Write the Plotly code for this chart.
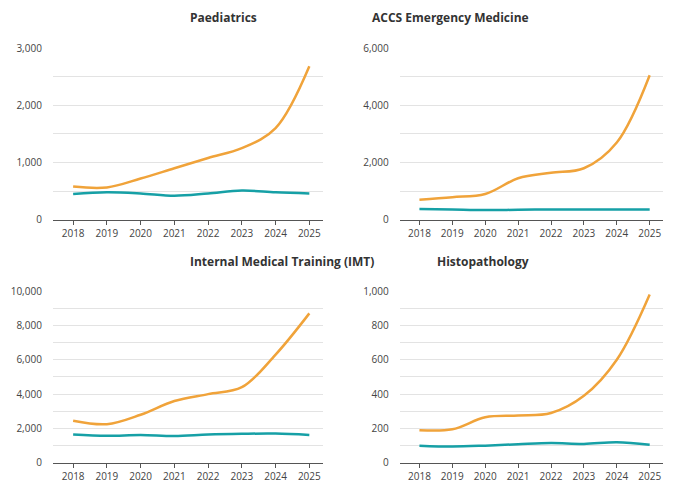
import plotly.graph_objects as go

years = ["2018", "2019", "2020", "2021", "2022", "2023", "2024", "2025"]

titles = ["Paediatrics", "ACCS Emergency Medicine",
          "Internal Medical Training (IMT)", "Histopathology"]

paed_orange = [580, 565, 720, 900, 1080, 1250, 1600, 2680]
paed_teal = [450, 480, 460, 420, 460, 510, 480, 460]
accs_orange = [700, 790, 900, 1450, 1640, 1800, 2700, 5050]
accs_teal = [380, 360, 340, 350, 360, 360, 360, 360]
imt_orange = [2450, 2250, 2800, 3600, 4000, 4400, 6300, 8700]
imt_teal = [1650, 1570, 1620, 1560, 1650, 1690, 1700, 1620]
histo_orange = [190, 195, 265, 275, 290, 390, 600, 980]
histo_teal = [100, 95, 100, 108, 115, 110, 120, 105]

orange_series = [paed_orange, accs_orange, imt_orange, histo_orange]
teal_series = [paed_teal, accs_teal, imt_teal, histo_teal]
y_max = [3000, 6000, 10000, 1000]
y_minor = [500, 1000, 1000, 100]
y_major = [1000, 2000, 2000, 200]

x_domains = [[0.066, 0.463], [0.576, 0.963], [0.066, 0.463], [0.576, 0.963]]
y_domains = [[0.566, 0.918], [0.566, 0.918], [0.068, 0.42], [0.068, 0.42]]

ORANGE = "#f0a33a"
TEAL = "#16a0a6"

fig = go.Figure()
for i in range(4):
    n = "" if i == 0 else str(i + 1)
    fig.add_trace(go.Scatter(x=years, y=teal_series[i], mode="lines",
                             line=dict(color=TEAL, width=2.5, shape="spline"),
                             xaxis="x" + n, yaxis="y" + n, showlegend=False))
    fig.add_trace(go.Scatter(x=years, y=orange_series[i], mode="lines",
                             line=dict(color=ORANGE, width=2.5, shape="spline"),
                             xaxis="x" + n, yaxis="y" + n, showlegend=False))
    vals = list(range(0, y_max[i] + 1, y_minor[i]))
    text = [f"{v:,}" if v % y_major[i] == 0 else "" for v in vals]
    fig.update_layout({
        "xaxis" + n: dict(domain=x_domains[i], anchor="y" + n, type="category",
                          showline=True, linecolor="#555", ticks="outside",
                          ticklen=4, tickcolor="#555", showgrid=False,
                          range=[-0.6, 7.4], automargin=False),
        "yaxis" + n: dict(domain=y_domains[i], anchor="x" + n,
                          range=[0, y_max[i]], tickvals=vals, ticktext=text,
                          gridcolor="#e3e3e3", zeroline=False, ticklen=8,
                          ticks="outside", tickcolor="rgba(0,0,0,0)",
                          automargin=False),
    })
    fig.add_annotation(text=f"<b>{titles[i]}</b>", xref="paper", yref="paper",
                       x=sum(x_domains[i]) / 2, y=y_domains[i][1] + 0.04,
                       yanchor="bottom", showarrow=False,
                       font=dict(size=12, color="#333"))

fig.update_layout(width=680, height=488, margin=dict(l=0, r=0, t=0, b=0),
                  plot_bgcolor="white", paper_bgcolor="white",
                  font=dict(family="Open Sans", size=10, color="#444"))
fig.write_html("out.html")
